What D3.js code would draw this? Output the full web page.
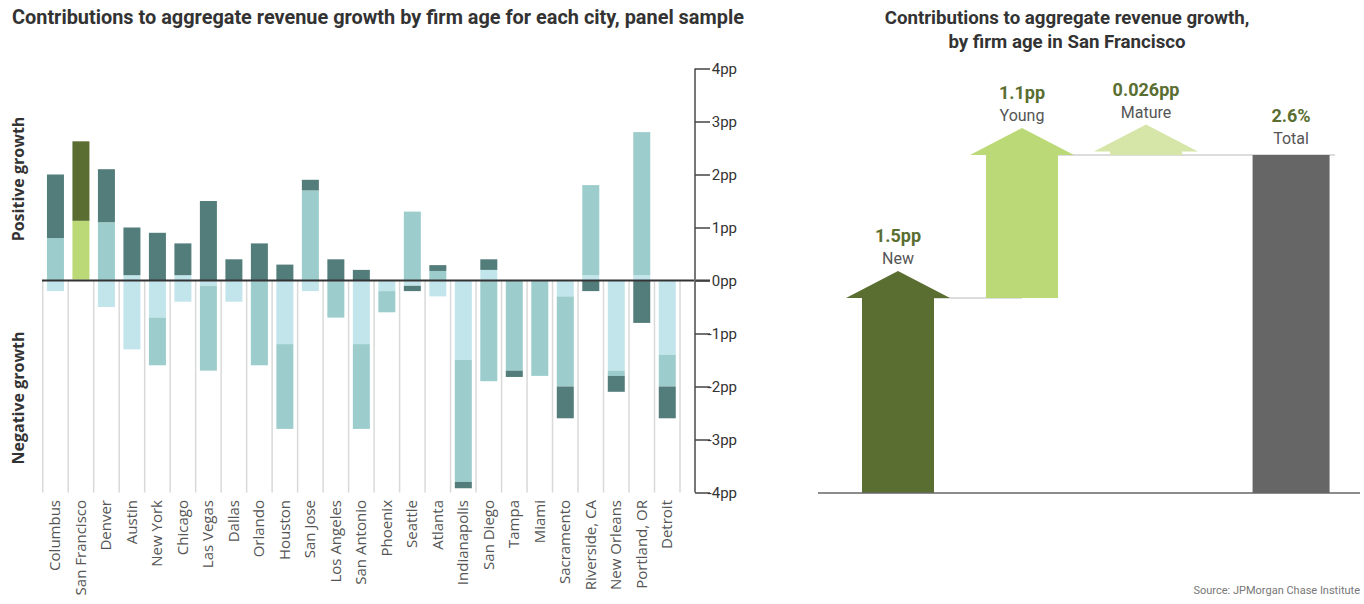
<!DOCTYPE html>
<html>
<head>
<meta charset="utf-8">
<script src="https://cdn.jsdelivr.net/npm/d3@7"></script>
<style>
  html, body { margin: 0; padding: 0; background: #fff; }
  svg { display: block; }
</style>
</head>
<body>
<svg id="chart" width="1364" height="604"></svg>
<script>
// City panel: contributions (pp) of each firm-age group to aggregate revenue growth
const cities = ["Columbus", "San Francisco", "Denver", "Austin", "New York", "Chicago",
  "Las Vegas", "Dallas", "Orlando", "Houston", "San Jose", "Los Angeles", "San Antonio",
  "Phoenix", "Seattle", "Atlanta", "Indianapolis", "San Diego", "Tampa", "Miami",
  "Sacramento", "Riverside, CA", "New Orleans", "Portland, OR", "Detroit"];
const matureGain = [0, 0.026, 0, 0.1, 0, 0.1, 0, 0, 0, 0, 0, 0, 0,
  0, 0, 0, 0, 0.2, 0, 0, 0, 0.1, 0, 0.1, 0];
const matureLoss = [-0.2, 0, -0.5, -1.3, -0.7, -0.4, -0.1, -0.4, 0, -1.2, -0.2, 0, -1.2,
  -0.2, -0.1, -0.3, -1.5, 0, 0, 0, -0.3, 0, -1.7, 0, -1.4];
const youngVals = [0.8, 1.1, 1.1, 0, -0.9, 0, -1.6, 0, -1.6, -1.6, 1.7, -0.7, -1.6,
  -0.4, 1.3, 0.18, -2.3, -1.9, -1.7, -1.8, -1.7, 1.7, -0.1, 2.7, -0.6];
const newVals = [1.2, 1.5, 1.0, 0.9, 0.9, 0.6, 1.5, 0.4, 0.7, 0.3, 0.2, 0.4, 0.2,
  0, -0.1, 0.11, -0.12, 0.2, -0.12, 0, -0.6, -0.2, -0.3, -0.8, -0.6];
const yTicks = [4, 3, 2, 1, 0, -1, -2, -3, -4];

// San Francisco waterfall
const sfAges = ["New", "Young", "Mature"];
const sfVals = [1.5, 1.1, 0.026];
const sfTotal = 2.6;
const sfTotalLabel = "Total";

const svg = d3.select("#chart");
const ink = "#333333";
const soft = "#555555";
const titleFont = "Roboto, 'Liberation Sans', sans-serif";
const labelFont = "'Open Sans', 'Noto Sans', sans-serif";

// ---------- Left panel ----------
const keys = ["matureGain", "matureLoss", "young", "new"];
const rows = cities.map((c, i) => ({
  city: c, matureGain: matureGain[i], matureLoss: matureLoss[i],
  young: youngVals[i], new: newVals[i]
}));
const stack = d3.stack().keys(keys).offset(d3.stackOffsetDiverging);
const series = stack(rows);

const x = d3.scaleBand().domain(cities).range([42.7, 680]).paddingInner(0.333).paddingOuter(0.1665);
const y = d3.scaleLinear().domain([-4, 4]).range([492.5, 68.5]);

const tealColors = { matureGain: "#c1e5ea", matureLoss: "#c1e5ea", young: "#9ccccc", new: "#537d7b" };
const greenColors = { matureGain: "#d5e6a8", matureLoss: "#d5e6a8", young: "#bcd977", new: "#5a6e31" };

svg.append("text")
  .attr("x", 12).attr("y", 24)
  .attr("font-family", titleFont).attr("font-weight", 700).attr("font-size", 19.9)
  .attr("fill", ink)
  .text("Contributions to aggregate revenue growth by firm age for each city, panel sample");

// category separators below the zero line
const step = x.step();
const edges = cities.map(c => x(c) - step * x.paddingInner() / 2).concat([x(cities[cities.length - 1]) + x.bandwidth() + step * x.paddingInner() / 2]);
svg.append("g").selectAll("line").data(edges).join("line")
  .attr("x1", d => d).attr("x2", d => d)
  .attr("y1", y(0)).attr("y2", y(-4))
  .attr("stroke", "#d9d9d9").attr("stroke-width", 1.5);

// stacked bars
svg.append("g").selectAll("g").data(series).join("g")
  .selectAll("rect").data(s => s.map(d => ({ key: s.key, d })))
  .join("rect")
  .attr("x", p => x(p.d.data.city))
  .attr("width", x.bandwidth())
  .attr("y", p => y(Math.max(p.d[0], p.d[1])))
  .attr("height", p => Math.abs(y(p.d[0]) - y(p.d[1])))
  .attr("fill", p => (p.d.data.city === "San Francisco" ? greenColors : tealColors)[p.key]);

// zero line
svg.append("line")
  .attr("x1", 42).attr("x2", 710).attr("y1", y(0)).attr("y2", y(0))
  .attr("stroke", "#333").attr("stroke-width", 2);

// right-hand value axis
const yAxis = d3.axisRight(y).tickValues(yTicks).tickSize(15).tickFormat(d => d + "pp");
const ag = svg.append("g").attr("transform", "translate(695,0)").call(yAxis);
ag.select(".domain").attr("stroke", "#777").attr("stroke-width", 2).attr("d", `M0,${y(4)}V${y(-4)}`);
ag.selectAll(".tick line").attr("stroke", "#444").attr("stroke-width", 1.5);
ag.selectAll(".tick text")
  .attr("x", 42).attr("text-anchor", "end")
  .attr("font-family", titleFont).attr("font-size", 15).attr("fill", ink);

// city labels
svg.append("g").selectAll("text").data(cities).join("text")
  .attr("transform", c => `translate(${x(c) + x.bandwidth() / 2 + 5},500) rotate(-90)`)
  .attr("text-anchor", "end")
  .attr("font-family", labelFont).attr("font-size", 15).attr("fill", soft)
  .text(c => c);

// side captions
[["Positive growth", 179], ["Negative growth", 398]].forEach(([t, cy]) => {
  svg.append("text")
    .attr("transform", `translate(24,${cy}) rotate(-90)`)
    .attr("text-anchor", "middle")
    .attr("font-family", labelFont).attr("font-weight", 700).attr("font-size", 16)
    .attr("fill", ink).text(t);
});

// ---------- Right panel ----------
const rTitle = svg.append("text")
  .attr("text-anchor", "middle")
  .attr("font-family", titleFont).attr("font-weight", 700).attr("font-size", 18.7).attr("fill", ink);
rTitle.append("tspan").attr("x", 1067).attr("y", 24).text("Contributions to aggregate revenue growth,");
rTitle.append("tspan").attr("x", 1067).attr("y", 48).text("by firm age in San Francisco");

const slot = { New: 0, Young: 1, Mature: 2, Total: 3.17 };
const xr = d3.scaleLinear().domain([0, 1]).range([898, 1022]);
const yr = d3.scaleLinear().domain([0, sfTotal]).range([493, 155]);
const ageColors = { New: "#5a6e31", Young: "#bcd977", Mature: "#d5e6a8" };

let run = 0;
const steps = sfAges.map((a, i) => {
  const s = { age: a, v: sfVals[i], base: run, top: run + sfVals[i] };
  run += sfVals[i];
  return s;
});

const bodyW = 72, headW = 104, headH = 27;

// connectors between consecutive steps, the last one running into the total bar
const conn = svg.append("g");
steps.forEach((s, i) => {
  const last = i === steps.length - 1;
  const x1 = xr(slot[s.age]);
  const x2 = last ? xr(slot.Total) + 44 : xr(slot[steps[i + 1].age]);
  const level = last ? sfTotal : s.top;
  conn.append("line")
    .attr("x1", x1).attr("x2", x2).attr("y1", yr(level)).attr("y2", yr(level))
    .attr("stroke", "#dcdcdc").attr("stroke-width", 2);
});

// arrows
svg.append("g").selectAll("path").data(steps).join("path")
  .attr("fill", s => ageColors[s.age])
  .attr("d", s => {
    const cx = xr(slot[s.age]);
    const yb = yr(s.base), yt = yr(s.top);
    return `M${cx - bodyW / 2},${yb}V${yt}H${cx - headW / 2}L${cx},${yt - headH}L${cx + headW / 2},${yt}H${cx + bodyW / 2}V${yb}Z`;
  });

// total bar
svg.append("rect")
  .attr("x", xr(slot.Total) - 38.5).attr("width", 77)
  .attr("y", yr(sfTotal)).attr("height", yr(0) - yr(sfTotal))
  .attr("fill", "#666666");

// baseline
svg.append("line")
  .attr("x1", 818).attr("x2", 1360).attr("y1", yr(0)).attr("y2", yr(0))
  .attr("stroke", "#666").attr("stroke-width", 1.5);

// value labels
const green = "#5a6e31";
steps.forEach(s => {
  const cx = xr(slot[s.age]);
  const ty = yr(s.top) - headH;
  svg.append("text").attr("x", cx).attr("y", ty - 29).attr("text-anchor", "middle")
    .attr("font-family", titleFont).attr("font-weight", 700).attr("font-size", 18).attr("fill", green)
    .text(s.v + "pp");
  svg.append("text").attr("x", cx).attr("y", ty - 7).attr("text-anchor", "middle")
    .attr("font-family", titleFont).attr("font-size", 16).attr("fill", soft)
    .text(s.age);
});
svg.append("text").attr("x", xr(slot.Total)).attr("y", yr(sfTotal) - 33).attr("text-anchor", "middle")
  .attr("font-family", titleFont).attr("font-weight", 700).attr("font-size", 18).attr("fill", green)
  .text(sfTotal + "%");
svg.append("text").attr("x", xr(slot.Total)).attr("y", yr(sfTotal) - 11).attr("text-anchor", "middle")
  .attr("font-family", titleFont).attr("font-size", 16).attr("fill", soft)
  .text(sfTotalLabel);

// source note
svg.append("text").attr("x", 1360).attr("y", 594).attr("text-anchor", "end")
  .attr("font-family", titleFont).attr("font-size", 11).attr("fill", "#777")
  .text("Source: JPMorgan Chase Institute");
</script>
</body>
</html>
